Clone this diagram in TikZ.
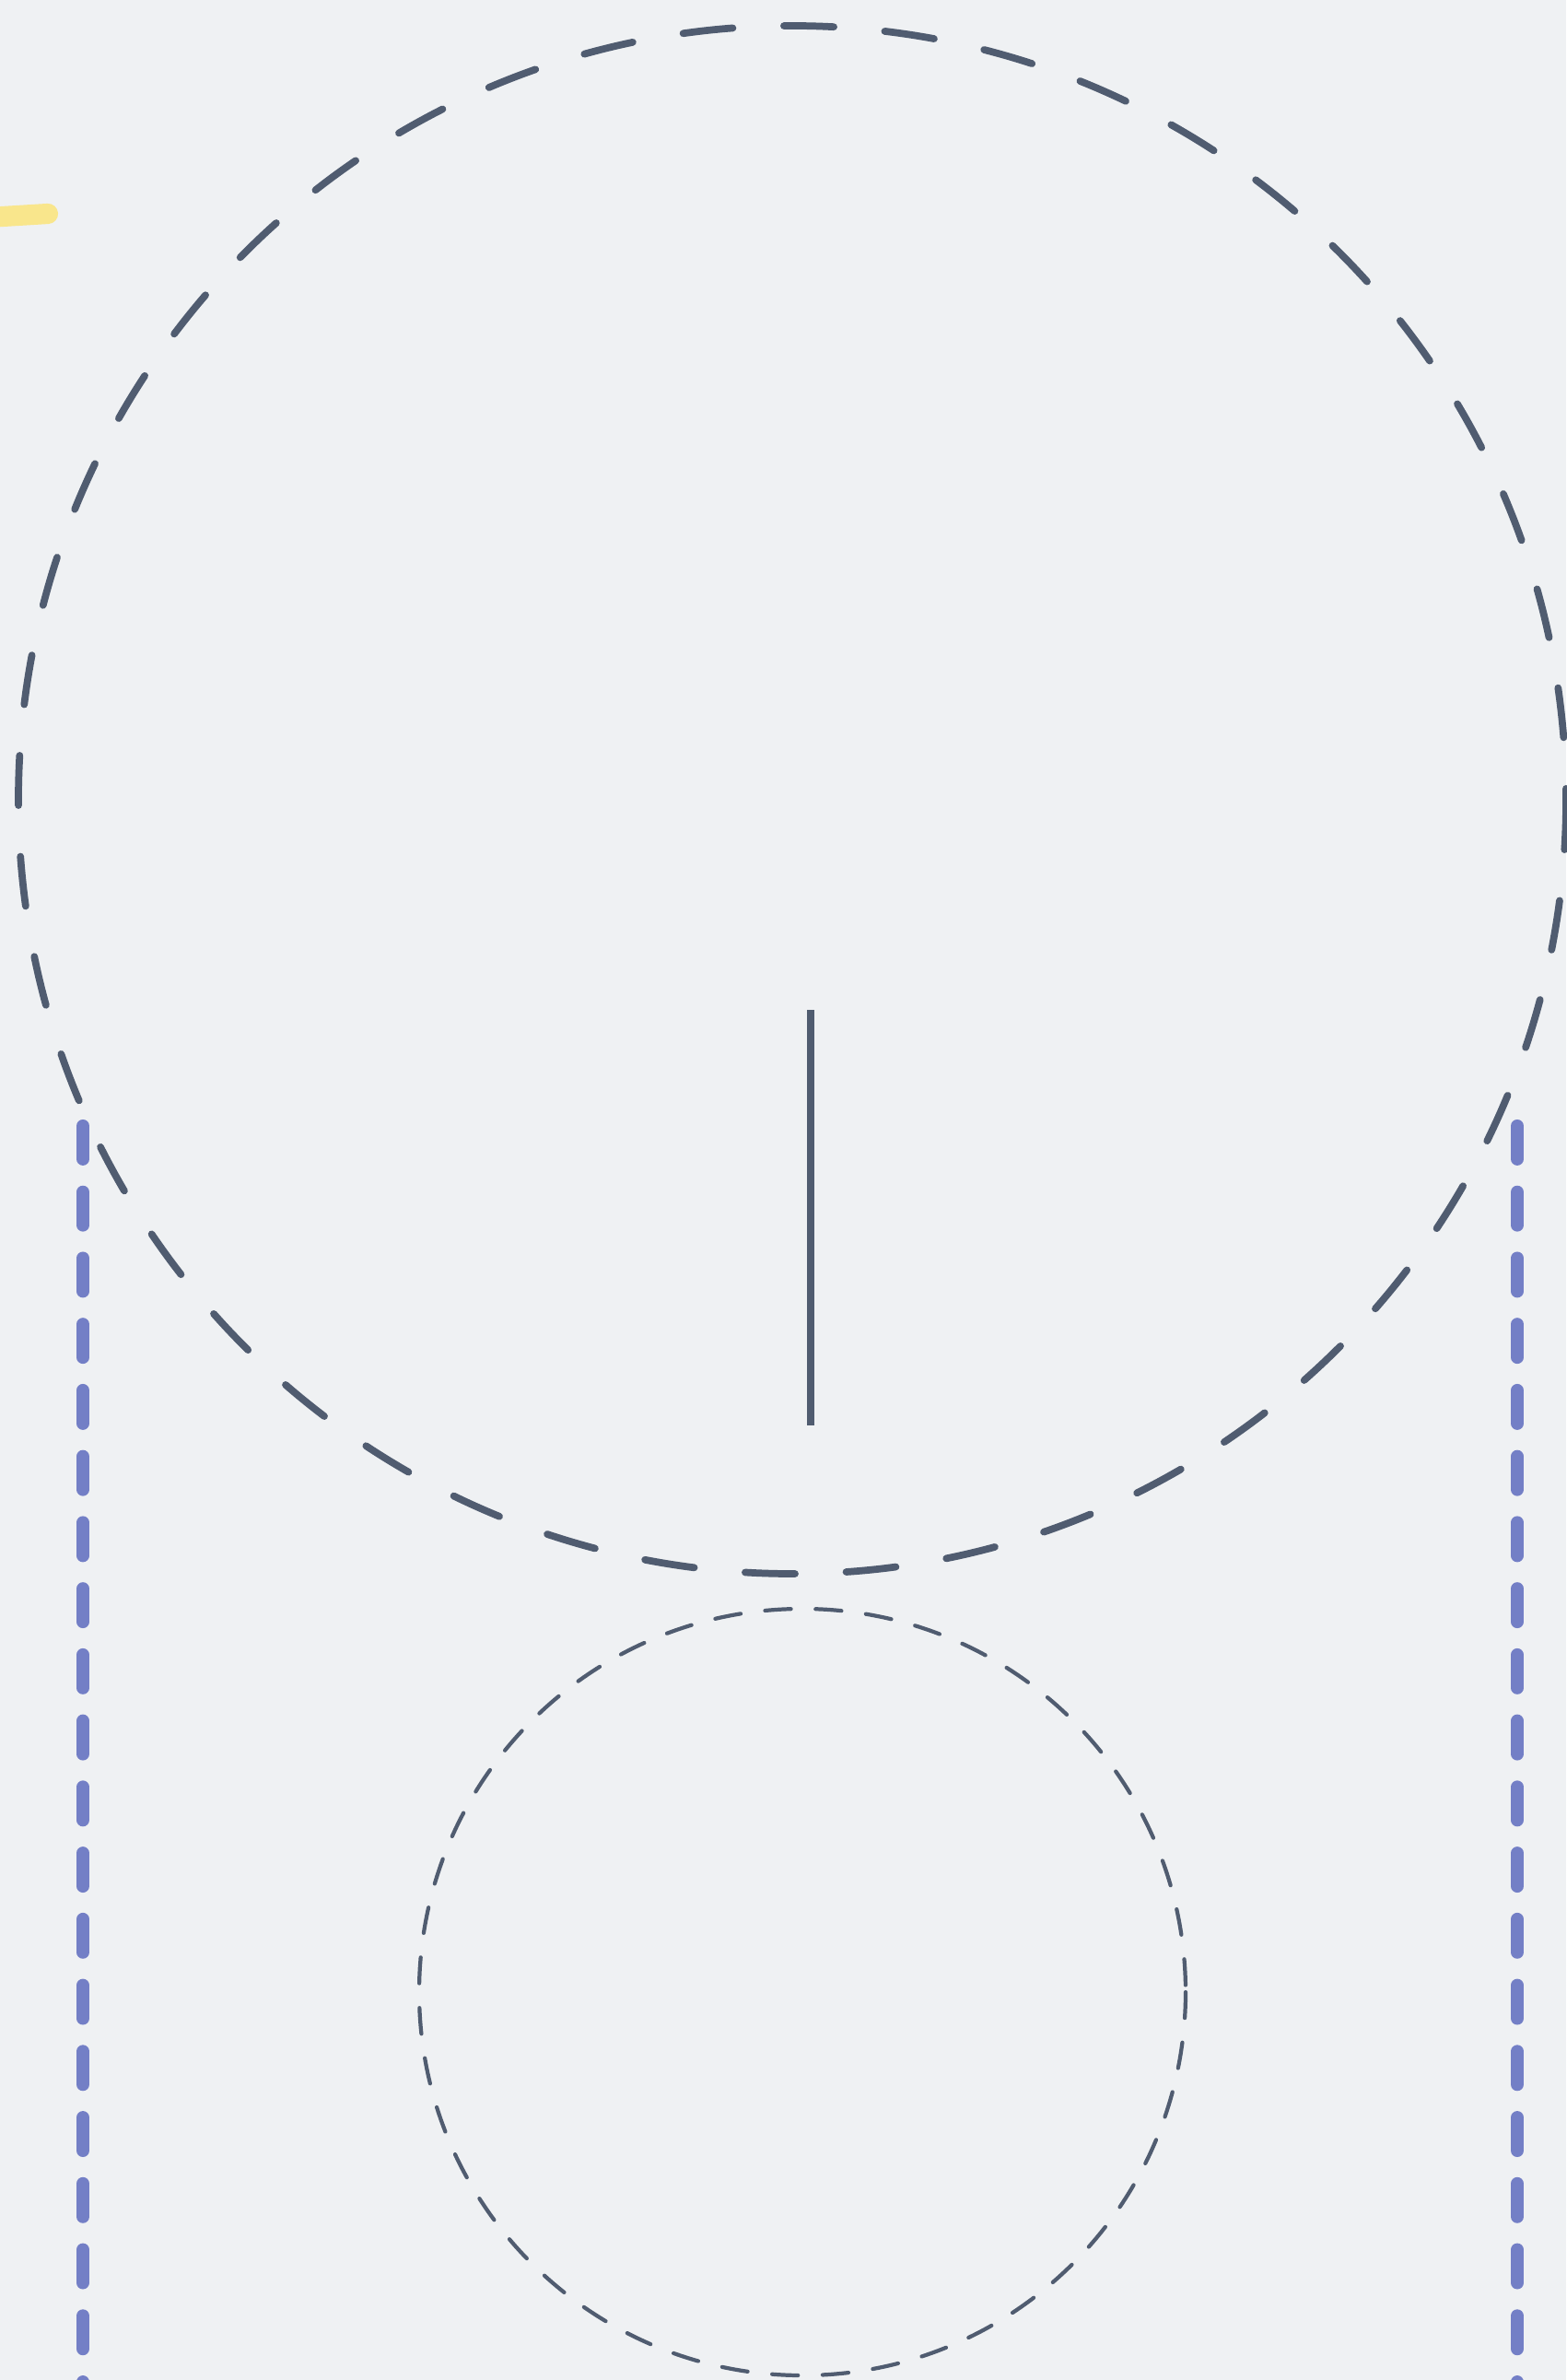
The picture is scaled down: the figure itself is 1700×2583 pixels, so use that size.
\documentclass[tikz,border=0pt]{standalone}
\usepackage{tikz}
\usetikzlibrary{calc}
\definecolor{bgpaper}{HTML}{EFF1F3}
\definecolor{slateline}{HTML}{505C70}
\definecolor{guideblue}{HTML}{737FC6}
\definecolor{markyellow}{HTML}{F9E68C}
\tikzset{every picture/.style={line width=0.75pt}}

\begin{document}
\begin{tikzpicture}[x=0.01cm,y=-0.01cm,
    bigring/.style={slateline,line width=2.2pt,line cap=round,dash pattern=on 15.4pt off 15.8pt},
    smallring/.style={slateline,line width=1.2pt,line cap=round,dash pattern=on 8pt off 7.6pt},
    guide/.style={guideblue,line width=4pt,line cap=round,dash pattern=on 10.2pt off 10.2pt},
    axisbar/.style={slateline,line width=2.1pt}]
    % === background ===
    \fill[bgpaper] (0,0) rectangle (1700,2583);
    \useasboundingbox (0,0) rectangle (1700,2583);

    % yellow mark, top left
    \draw[markyellow,line width=6.3pt,line cap=round] (-30,237) -- (52,232);

    % === side guides ===
    \draw[guide] (90,1222) -- (90,2620);
    \draw[guide] (1647,1222) -- (1647,2620);

    % === big ring ===
    \draw[bigring] (860,868) circle[radius=840];
    \draw[axisbar] (880,1096) -- (880,1547); % centre bar

    % === small ring ===
    \draw[smallring] (871,2162) circle[radius=416];
\end{tikzpicture}
\end{document}
